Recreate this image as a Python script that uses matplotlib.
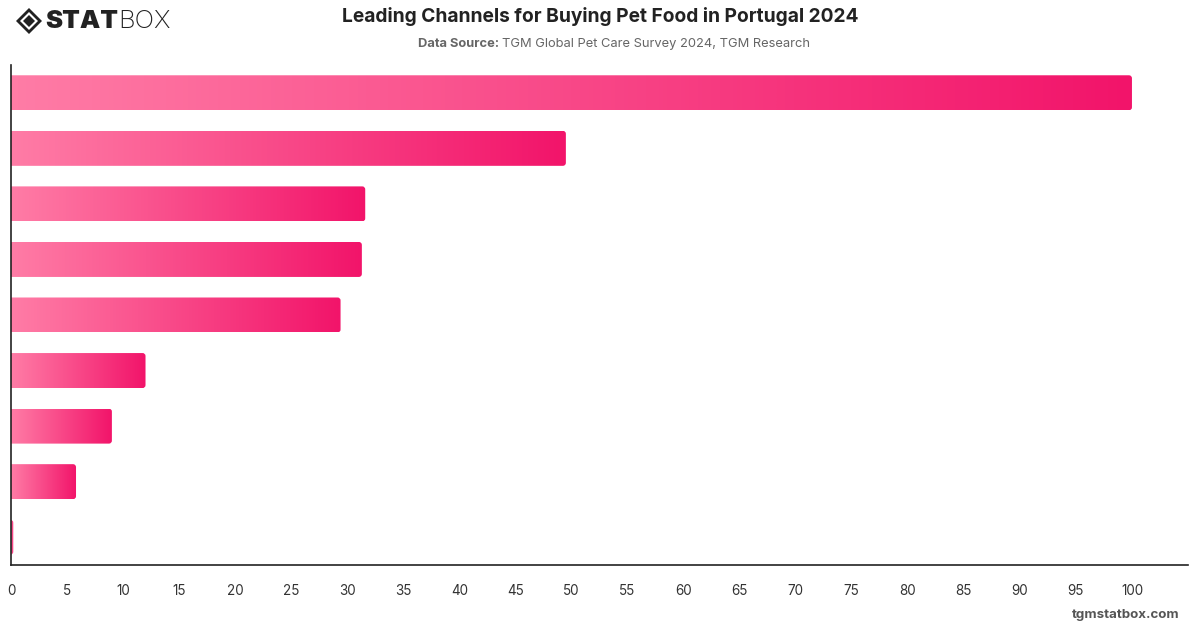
import numpy as np
import matplotlib
matplotlib.use("Agg")
import matplotlib.pyplot as plt
from matplotlib.patches import FancyBboxPatch, Polygon
from matplotlib.colors import LinearSegmentedColormap

# ---- data ----
categories = ["Channel 1", "Channel 2", "Channel 3", "Channel 4", "Channel 5",
              "Channel 6", "Channel 7", "Channel 8", "Channel 9"]
values = [100, 49.5, 31.6, 31.3, 29.4, 12.0, 9.0, 5.8, 0.2]
xticks = list(range(0, 101, 5))
title = "Leading Channels for Buying Pet Food in Portugal 2024"
source_label = "Data Source:"
source_text = "TGM Global Pet Care Survey 2024, TGM Research"

W, H = 1200, 628
fig = plt.figure(figsize=(W / 100, H / 100), dpi=100)
plt.rcParams['font.family'] = ['Inter', 'DejaVu Sans']

ax = fig.add_axes([11 / W, 1 - 565 / H, (1188 - 11) / W, (565 - 65) / H])
ypos = np.arange(len(categories))
bars = ax.barh(ypos, values, height=0.63, color="none")
ax.set_xlim(0, 105)
ax.set_ylim(len(categories) - 0.5, -0.5)

cmap = LinearSegmentedColormap.from_list("pk", ["#ff7ca6", "#f2146a"])
grad = np.linspace(0, 1, 256).reshape(1, -1)

px_x = (1188 - 11) / 105.0
px_y = (565 - 65) / 9.0
aspect = (1 / px_y) / (1 / px_x)

for b in bars:
    x0, y0 = b.get_x(), b.get_y()
    w, h = b.get_width(), b.get_height()
    if w <= 0:
        continue
    r = 3.0 / px_x
    clip = FancyBboxPatch((x0 - 2 * r, y0), w + 2 * r, h,
                          boxstyle=f"round,pad=0,rounding_size={r}",
                          mutation_aspect=aspect, transform=ax.transData,
                          facecolor="none", edgecolor="none")
    ax.add_patch(clip)
    im = ax.imshow(grad, cmap=cmap, aspect="auto", extent=(x0, x0 + w, y0 + h, y0),
                   interpolation="bicubic", zorder=2)
    im.set_clip_path(clip)

ax.set_xlim(0, 105)
ax.set_ylim(len(categories) - 0.5, -0.5)
ax.set_yticks([])
ax.set_xticks(xticks)
ax.set_xticklabels([str(t) for t in xticks])
ax.tick_params(axis="x", length=0, pad=14, labelsize=9.7, labelcolor="#333333")
for s in ["top", "right"]:
    ax.spines[s].set_visible(False)
for s in ["left", "bottom"]:
    ax.spines[s].set_color("#222222")
    ax.spines[s].set_linewidth(1.2)

# ---- titles ----
fig.text(0.5, 1 - 17 / H, title, ha="center", va="center",
         fontsize=13.8, fontweight="bold", color="#222222")
t1 = fig.text(0, 1 - 44 / H, source_label + " ", ha="left", va="center",
              fontsize=9.3, fontweight="bold", color="#666666")
t2 = fig.text(0, 1 - 44 / H, source_text, ha="left", va="center",
              fontsize=9.3, color="#666666")
fig.canvas.draw()
r = fig.canvas.get_renderer()
w1 = t1.get_window_extent(r).width
w2 = t2.get_window_extent(r).width
start = (W - (w1 + w2)) / 2 + 14
t1.set_x(start / W)
t2.set_x((start + w1) / W)

fig.text(1180 / W, 1 - 615 / H, "tgmstatbox.com", ha="right", va="center",
         fontsize=9.6, fontweight="bold", color="#555555")

# ---- logo ----
cx, cy, s = 29 / W, 1 - 21 / H, 13
def pts(d):
    return [(cx + dx / W, cy + dy / H) for dx, dy in d]
fig.patches.append(Polygon(pts([(0, s), (s, 0), (0, -s), (-s, 0)]), closed=True,
                           transform=fig.transFigure, facecolor="#222222", edgecolor="none"))
fig.patches.append(Polygon(pts([(0, s - 4), (s - 4, 0), (0, -s + 4), (-s + 4, 0)]), closed=True,
                           transform=fig.transFigure, facecolor="white", edgecolor="none"))
fig.patches.append(Polygon(pts([(0, s - 7), (s - 7, 0), (0, -s + 7), (-s + 7, 0)]), closed=True,
                           transform=fig.transFigure, facecolor="#222222", edgecolor="none"))
ts = fig.text(45 / W, cy, "STAT", ha="left", va="center", fontsize=18.5,
              fontweight="black", color="#222222")
fig.canvas.draw()
wst = ts.get_window_extent(r).width
fig.text((45 + wst) / W, cy, "BOX", ha="left", va="center", fontsize=18.5,
         fontweight="light", color="#222222")

fig.savefig("out.png", dpi=100)
